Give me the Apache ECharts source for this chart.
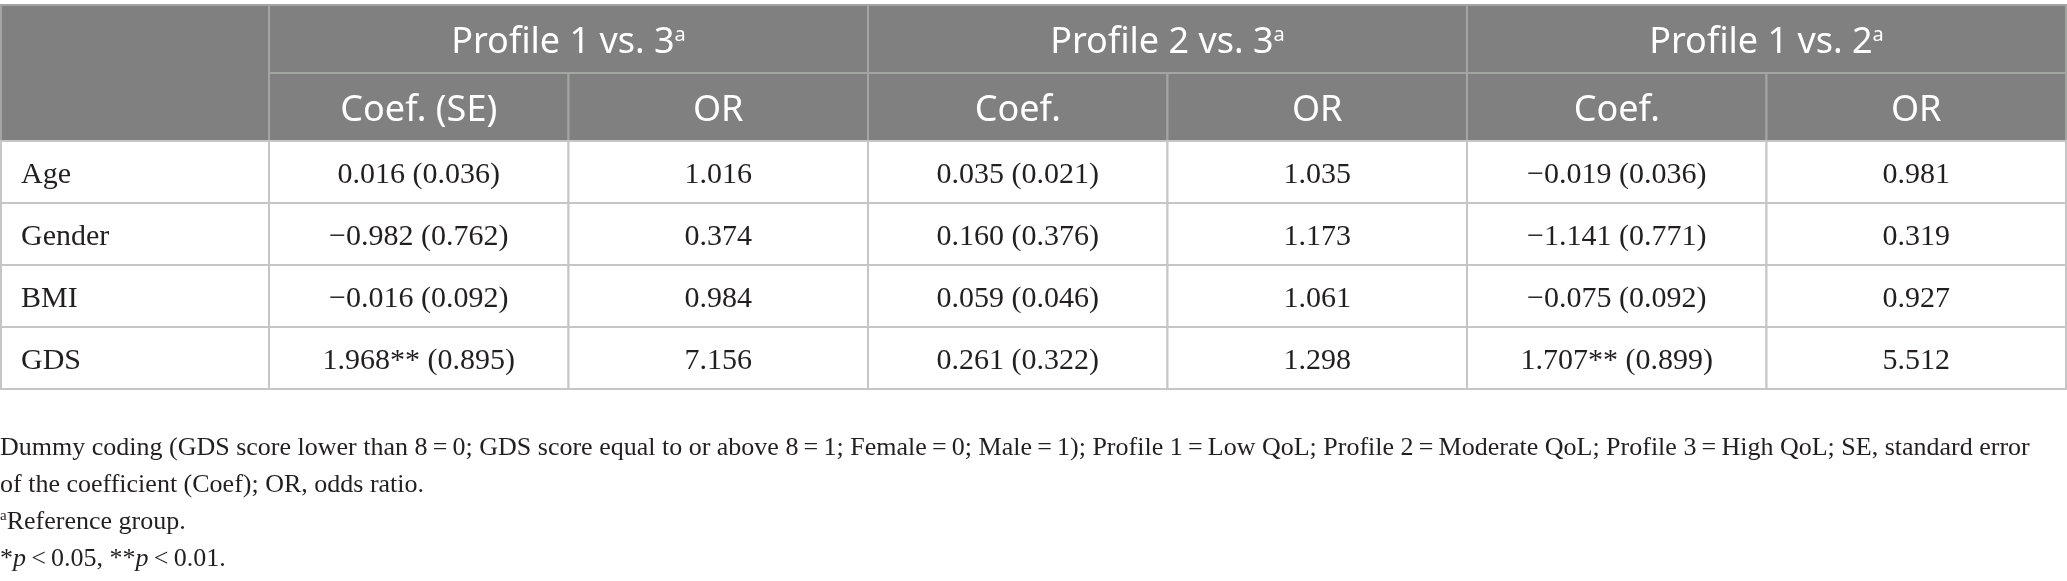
<!DOCTYPE html>
<html>
<head>
    <meta charset="utf-8">
    <title>Profile comparison</title>
    <style>
        html, body { margin: 0; padding: 0; background: #fff; }
        #main { width: 2067px; height: 581px; }
    </style>
</head>
<body>
<div id="main"></div>
<script src="https://cdn.jsdelivr.net/npm/echarts@6/dist/echarts.min.js"></script>
<script type="text/javascript">
    // table content
    var rowLabels = ['Age', 'Gender', 'BMI', 'GDS'];
    var groupLabels = ['Profile 1 vs. 3', 'Profile 2 vs. 3', 'Profile 1 vs. 2'];
    var subLabels = ['Coef. (SE)', 'OR', 'Coef.', 'OR', 'Coef.', 'OR'];

    var coef13 = [0.016, -0.982, -0.016, 1.968];
    var se13 = [0.036, 0.762, 0.092, 0.895];
    var or13 = [1.016, 0.374, 0.984, 7.156];
    var sig13 = ['', '', '', '**'];

    var coef23 = [0.035, 0.160, 0.059, 0.261];
    var se23 = [0.021, 0.376, 0.046, 0.322];
    var or23 = [1.035, 1.173, 1.061, 1.298];
    var sig23 = ['', '', '', ''];

    var coef12 = [-0.019, -1.141, -0.075, 1.707];
    var se12 = [0.036, 0.771, 0.092, 0.899];
    var or12 = [0.981, 0.319, 0.927, 5.512];
    var sig12 = ['', '', '', '**'];

    var footnotes = [
        'Dummy coding (GDS score lower than 8\u2009=\u20090; GDS score equal to or above 8\u2009=\u20091; Female\u2009=\u20090; Male\u2009=\u20091); Profile 1\u2009=\u2009Low QoL; Profile 2\u2009=\u2009Moderate QoL; Profile 3\u2009=\u2009High QoL; SE, standard error',
        'of the coefficient (Coef); OR, odds ratio.',
        '{sup|a}Reference group.',
        '*{i|p}\u2009<\u20090.05, **{i|p}\u2009<\u20090.01.'
    ];

    var HEAD_BG = '#7f807f';
    var HEAD_LINE = '#a3a5a3';
    var BODY_LINE = '#c6c6c6';
    var SANS = '"Noto Sans", "Open Sans", sans-serif';
    var SERIF = '"Liberation Serif", "DejaVu Serif", serif';

    function fmt(v) {
        var s = Math.abs(v).toFixed(3);
        return (v < 0 ? '\u2212' : '') + s;
    }

    // cells of the numeric part: [col, row]
    var bodyCells = [];
    var bodyTexts = [];
    var groups = [[coef13, se13, or13, sig13], [coef23, se23, or23, sig23], [coef12, se12, or12, sig12]];
    groups.forEach(function (g, gi) {
        rowLabels.forEach(function (lab, ri) {
            bodyCells.push([gi * 2, ri]);
            bodyTexts.push(fmt(g[0][ri]) + g[3][ri] + ' (' + fmt(g[1][ri]) + ')');
            bodyCells.push([gi * 2 + 1, ri]);
            bodyTexts.push(fmt(g[2][ri]));
        });
    });

    // header cells: [col, row, span]
    var headCells = [];
    var headTexts = [];
    groupLabels.forEach(function (lab, gi) {
        headCells.push([gi * 2, 0, 2]);
        headTexts.push(lab + '{sup|a}');
    });
    subLabels.forEach(function (lab, i) {
        headCells.push([i, 1, 1]);
        headTexts.push(lab);
    });

    var labelCells = rowLabels.map(function (lab, i) { return [0, i]; });

    function cellRect(api, span) {
        var c = api.coord([api.value(0), api.value(1)]);
        var s = api.size([1, 1]);
        return { x: c[0] - s[0] / 2, y: c[1] - s[1] / 2, width: s[0] * span, height: s[1] };
    }

    var myChart = echarts.init(document.getElementById('main'));
    myChart.setOption({
        animation: false,
        grid: [
            { left: 1, top: 5, width: 268, height: 136 },
            { left: 269, top: 5, right: 1, height: 136 },
            { left: 1, top: 141, width: 268, height: 248 },
            { left: 269, top: 141, right: 1, height: 248 }
        ],
        xAxis: [
            { type: 'category', gridIndex: 0, data: [''], show: false },
            { type: 'category', gridIndex: 1, data: subLabels, show: false },
            { type: 'category', gridIndex: 2, data: [''], show: false },
            { type: 'category', gridIndex: 3, data: subLabels, show: false }
        ],
        yAxis: [
            { type: 'category', gridIndex: 0, data: [''], inverse: true, show: false },
            { type: 'category', gridIndex: 1, data: ['group', 'sub'], inverse: true, show: false },
            { type: 'category', gridIndex: 2, data: rowLabels, inverse: true, show: false },
            { type: 'category', gridIndex: 3, data: rowLabels, inverse: true, show: false }
        ],
        graphic: footnotes.map(function (t, i) {
            return {
                type: 'text',
                left: 0,
                top: 435 + i * 37,
                style: {
                    text: t,
                    fill: '#231f20',
                    font: '26px ' + SERIF,
                    rich: {
                        sup: { fontSize: 15, fontFamily: SERIF, fill: '#231f20', verticalAlign: 'top' },
                        i: { fontSize: 26, fontFamily: SERIF, fontStyle: 'italic', fill: '#231f20' }
                    }
                }
            };
        }),
        series: [
            {
                // empty header corner
                type: 'custom', xAxisIndex: 0, yAxisIndex: 0, clip: false,
                data: [[0, 0]],
                renderItem: function (params, api) {
                    return { type: 'rect', shape: cellRect(api, 1), style: { fill: HEAD_BG, stroke: HEAD_LINE, lineWidth: 2 } };
                }
            },
            {
                type: 'custom', xAxisIndex: 1, yAxisIndex: 1, clip: false,
                data: headCells,
                renderItem: function (params, api) {
                    var r = cellRect(api, api.value(2));
                    return {
                        type: 'group',
                        children: [
                            { type: 'rect', shape: r, style: { fill: HEAD_BG, stroke: HEAD_LINE, lineWidth: 2 } },
                            {
                                type: 'text',
                                style: {
                                    x: r.x + r.width / 2, y: r.y + r.height / 2 + 4,
                                    text: headTexts[params.dataIndex],
                                    align: 'center', verticalAlign: 'middle',
                                    fill: '#ffffff', fontSize: 36, fontFamily: SANS,
                                    rich: { sup: { fontSize: 20, fontFamily: SANS, fill: '#ffffff', verticalAlign: 'top' } }
                                }
                            }
                        ]
                    };
                }
            },
            {
                type: 'custom', xAxisIndex: 2, yAxisIndex: 2, clip: false,
                data: labelCells,
                renderItem: function (params, api) {
                    var r = cellRect(api, 1);
                    return {
                        type: 'group',
                        children: [
                            { type: 'rect', shape: r, style: { fill: '#ffffff', stroke: BODY_LINE, lineWidth: 2 } },
                            {
                                type: 'text',
                                style: {
                                    x: r.x + 20, y: r.y + r.height / 2 + 3,
                                    text: rowLabels[params.dataIndex],
                                    align: 'left', verticalAlign: 'middle',
                                    fill: '#231f20', fontSize: 30, fontFamily: SERIF
                                }
                            }
                        ]
                    };
                }
            },
            {
                type: 'custom', xAxisIndex: 3, yAxisIndex: 3, clip: false,
                data: bodyCells,
                renderItem: function (params, api) {
                    var r = cellRect(api, 1);
                    return {
                        type: 'group',
                        children: [
                            { type: 'rect', shape: r, style: { fill: '#ffffff', stroke: BODY_LINE, lineWidth: 2 } },
                            {
                                type: 'text',
                                style: {
                                    x: r.x + r.width / 2, y: r.y + r.height / 2 + 3,
                                    text: bodyTexts[params.dataIndex],
                                    align: 'center', verticalAlign: 'middle',
                                    fill: '#231f20', fontSize: 30, fontFamily: SERIF
                                }
                            }
                        ]
                    };
                }
            }
        ]
    });
</script>
</body>
</html>
